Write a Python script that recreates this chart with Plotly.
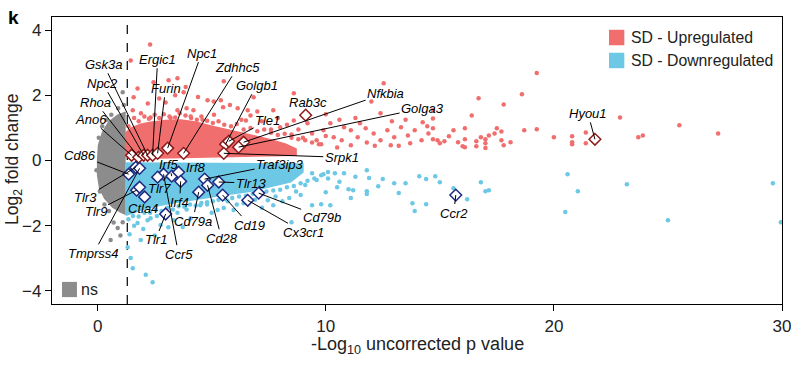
import plotly.graph_objects as go

# ---------------- data ----------------
RED = "#F06E6E"
BLUE = "#6DC8E6"
GREY = "#8C8C8C"

# dense cores of the clouds (outline vertices, data units)
red_core_x = [1.23, 1.23, 1.45, 1.89, 2.32, 2.98, 3.64, 4.30, 4.96, 5.61, 6.27, 6.93, 7.59, 8.25, 8.70, 8.70, 6.71, 3.64, 2.11]
red_core_y = [0.10, 0.84, 0.99, 1.11, 1.17, 1.23, 1.24, 1.18, 1.06, 0.96, 0.86, 0.76, 0.64, 0.50, 0.35, 0.16, 0.13, 0.10, 0.07]
blue_core_x = [1.23, 9.00, 9.00, 8.46, 7.59, 6.71, 5.83, 4.96, 4.08, 3.20, 2.32, 1.67, 1.23]
blue_core_y = [-0.08, -0.11, -0.36, -0.65, -0.80, -0.94, -1.03, -1.12, -1.22, -1.31, -1.43, -1.58, -1.68]
grey_core_x = [1.23, 0.88, 0.48, 0.22, 0.04, 0.00, 0.00, 0.09, 0.31, 0.66, 1.01, 1.23]
grey_core_y = [1.48, 1.39, 1.17, 0.87, 0.47, 0.01, -0.45, -0.85, -1.16, -1.43, -1.58, -1.65]

# scattered individual genes
red_x = [2.3, 1.45, 1.75, 1.58, 1.54, 2.45, 2.98, 3.11, 3.5, 3.77, 3.86, 4.2, 4.82, 5.09, 5.53, 5.4, 6.14, 6.58, 6.84,
         2.32, 3.5, 3.2, 4.08, 4.6, 5.5, 8.6, 12.54, 12.0, 8.6, 10.0, 12.4, 14.7, 14.25, 19.25, 16.7, 18.6, 17.8, 16.4,
         14.7, 14.7, 15.6, 16.1, 17.5, 17.7, 18.7, 19.25, 20.0, 20.8, 20.8, 20.8, 21.4, 21.4, 22.9, 14.7, 15.0, 15.2,
         15.4, 15.8, 16.0, 16.1, 16.1, 16.6, 16.6, 16.8, 17.0, 17.0, 17.0, 17.15, 17.4, 17.7, 17.8, 18.1, 25.5, 23.7,
         23.9, 27.2, 11.1, 11.4, 11.75, 12.1, 12.4, 12.7, 13.0, 13.3, 13.6, 13.9, 14.2, 14.5, 14.45, 14.9, 10.7, 10.8,
         10.35, 10.2, 9.9, 9.6, 9.4, 11.5, 12.15, 12.85, 13.7, 11.1, 9.2, 7.7, 8.0, 6.7, 6.5, 1.9, 2.2, 2.7, 3.4, 3.9,
         4.4, 5.1, 5.8, 6.3, 7.2, 7.0, 7.9, 8.3, 8.8, 9.8, 10.5, 11.8, 13.2, 10.0, 9.0, 8.5, 7.6, 12.9, 13.5, 11.3, 10.6,
         1.35, 1.6, 1.8, 2.05, 2.25, 2.5, 2.7, 2.9, 3.15, 3.4, 3.6, 3.85, 4.1, 4.35, 4.55, 4.8, 5.05, 5.3, 5.55, 5.85,
         6.1, 6.4, 6.7, 7.0, 7.3, 7.6, 7.9, 8.2, 8.5, 8.8, 9.1, 9.4, 9.7]
red_y = [3.56, 3.07, 2.21, 1.94, 1.54, 2.40, 1.78, 2.46, 2.52, 2.09, 2.25, 1.54, 1.85, 1.81, 2.43, 1.85, 1.60, 1.54, 1.94,
         1.32, 1.54, 1.30, 1.35, 1.25, 1.63, 2.06, 2.37, 1.81, 1.23, 1.42, 1.45, 1.54, 1.17, 2.68, 1.91, 2.03, 1.72, 1.38,
         1.29, 0.99, 0.93, 0.99, 0.99, 0.89, 0.93, 0.96, 0.71, 0.74, 0.56, 0.50, 0.86, 0.53, 1.32, 0.65, 0.53, 0.59,
         0.74, 0.56, 0.44, 0.41, 0.65, 0.59, 0.44, 0.71, 0.65, 0.53, 0.38, 0.77, 0.83, 0.62, 0.47, 0.56, 1.08, 0.71,
         0.77, 0.83, 0.93, 0.71, 0.99, 0.83, 0.62, 0.93, 0.71, 1.02, 0.77, 0.93, 0.62, 0.83, 1.05, 0.62, 0.62, 1.02,
         0.71, 1.14, 0.93, 0.62, 0.83, 1.14, 0.45, 0.47, 0.53, 0.47, 1.14, 1.54, 1.02, 1.38, 1.23, 1.45, 1.75, 1.90, 2.00, 1.60,
         1.95, 1.40, 1.70, 1.25, 1.20, 1.50, 1.30, 1.10, 0.95, 0.50, 0.40, 0.55, 0.45, 0.75, 0.70, 0.80, 0.95, 1.20, 1.25, 1.30, 1.25,
         1.05, 1.30, 1.20, 1.35, 1.28, 1.40, 1.30, 1.42, 1.35, 1.32, 1.45, 1.38, 1.30, 1.25, 1.35, 1.22, 1.15, 1.20, 1.10, 1.05,
         1.12, 0.95, 1.00, 0.90, 0.95, 0.85, 0.78, 0.82, 0.70, 0.65, 0.62, 0.55, 0.50]
blue_x = [23.2, 29.6, 25.0, 29.95, 12.5, 13.0, 13.5, 13.2, 14.1, 14.4, 14.8, 15.0, 15.6, 13.8, 14.4, 13.9, 16.2, 16.8,
          17.0, 17.15, 20.6, 21.05, 20.5, 10.4, 10.8, 11.8, 11.9, 12.3, 11.0, 11.2, 11.8, 11.8, 11.1, 10.2, 9.8, 9.4,
          8.5, 9.4, 9.9, 10.5, 10.0, 8.9, 8.4, 7.7, 7.46, 1.32, 1.45, 1.40, 1.75, 1.89, 2.32, 2.76, 3.33, 3.73, 4.08,
          5.53, 5.96, 6.4, 1.54, 2.11, 2.41, 2.19, 4.5, 5.26, 2.6, 3.0, 3.5, 3.9, 4.8, 5.0, 5.7, 6.1, 6.9, 7.2, 7.8,
          8.1, 8.7, 9.1, 9.6, 10.1, 10.6, 11.3, 2.0, 2.5, 1.6, 3.1,
          1.35, 1.55, 1.8, 2.05, 2.3, 2.55, 2.8, 3.05, 3.3, 3.55, 3.8, 4.05, 4.3, 4.55, 4.8, 5.05, 5.3, 5.6, 5.9,
          6.2, 6.5, 6.8, 7.1, 7.4, 7.7, 8.0, 8.3, 8.6, 8.9, 9.2, 9.5, 9.8, 10.1]
blue_y = [-0.73, -0.70, -1.83, -1.89, -0.57, -0.70, -0.70, -1.00, -0.48, -0.57, -0.48, -0.67, -0.85, -1.31, -1.34,
          -1.55, -1.19, -0.67, -0.94, -0.91, -0.42, -0.94, -1.58, -0.39, -0.39, -0.30, -0.54, -0.79, -0.88, -0.91,
          -0.94, -1.03, -1.15, -1.37, -1.34, -1.37, -1.89, -0.39, -0.42, -0.82, -0.97, -1.06, -1.15, -1.37, -1.22,
          -2.66, -2.99, -2.26, -1.92, -2.44, -1.77, -1.98, -1.83, -2.04, -1.77, -1.46, -1.52, -1.31, -3.30, -3.50,
          -3.73, -1.83, -1.37, -1.52, -1.70, -1.55, -1.60, -1.50, -1.35, -1.60, -1.25, -1.35, -1.20, -1.45, -1.10,
          -1.25, -0.95, -0.75, -0.60, -0.55, -0.65, -0.50, -2.10, -2.30, -2.00, -2.05,
          -1.80, -1.70, -1.72, -1.60, -1.60, -1.50, -1.55, -1.45, -1.50, -1.40, -1.42, -1.35, -1.38, -1.30, -1.28,
          -1.25, -1.20, -1.18, -1.15, -1.10, -1.08, -1.02, -1.00, -0.95, -0.92, -0.90, -0.82, -0.78, -0.70, -0.62,
          -0.55, -0.45, -0.35]
grey_x = [1.10, 0.70, 0.57, 0.88, 1.10, 0.90, 1.15, 0.40, 0.30, 1.00, 0.05, 0.10, 0.60, 0.20, -0.05, 0.50]
grey_y = [2.09, -1.90, -2.44, -2.07, -1.89, 1.60, 1.70, 1.25, -1.35, -2.30, 0.70, -0.95, 1.40, 1.05, -0.30, -1.55]

# highlighted genes
up_genes = ["Ano6", "Rhoa", "Npc2", "Gsk3a", "Ergic1", "Furin", "Npc1", "Zdhhc5", "Golgb1", "Tle1",
            "Nfkbia", "Golga3", "Srpk1", "Rab3c", "Hyou1"]
up_x = [1.49, 1.80, 2.02, 2.19, 2.41, 2.63, 3.07, 3.77, 5.61, 5.75, 6.40, 6.18, 5.53, 9.12, 21.80]
up_y = [0.16, 0.10, 0.16, 0.16, 0.16, 0.22, 0.38, 0.22, 0.50, 0.59, 0.56, 0.41, 0.22, 1.39, 0.65]
down_genes = ["Cd86", "Tlr3", "Tmprss4", "Tlr9", "Tlr7", "Ctla4", "Tlr1", "Ccr5", "Irf5", "Irf8", "Irf4",
              "Traf3ip3", "Tlr13", "Cd28", "Cd79a", "Cd19", "Cd79b", "Cx3cr1", "Ccr2", ""]
down_x = [1.36, 1.67, 1.84, 1.71, 1.84, 2.06, 2.98, 2.89, 3.25, 3.55, 3.64, 4.69, 5.31, 4.82, 4.43, 5.48,
          7.06, 6.58, 15.70, 2.63]
down_y = [-0.42, -0.21, -0.24, -0.91, -0.82, -1.12, -1.64, -0.42, -0.48, -0.36, -0.64, -0.57, -0.66, -0.76,
          -0.97, -1.06, -1.00, -1.22, -1.06, -0.51]

x_ticks = [0, 10, 20, 30]
y_ticks = [-4, -2, 0, 2, 4]
p_cutoff = 1.3

# ---------------- label placement (pixel offsets of label centre) ----------------
label_pos = {
    "Ano6": (-41, -36, True), "Rhoa": (-43, -55, True), "Npc2": (-41, -72, True), "Gsk3a": (-44, -91, True),
    "Ergic1": (5, -96, True), "Furin": (8, -65, True), "Npc1": (34, -95, True), "Zdhhc5": (54, -86, True),
    "Golgb1": (31, -59, True), "Tle1": (39, -21, True), "Nfkbia": (142, -49, True), "Golga3": (184, -39, True),
    "Srpk1": (118, 4, True), "Rab3c": (2, -13, False), "Hyou1": (-7, -26, True),
    "Cd86": (-49, -19, True), "Tlr3": (-50, 30, True), "Tmprss4": (-46, 85, True), "Tlr9": (-41, 21, True),
    "Tlr7": (20, 1, False), "Ctla4": (-2, 11, False), "Tlr1": (-10, 26, True), "Ccr5": (15, 80, True),
    "Irf5": (-3, -12, True), "Irf8": (17, -5, False), "Irf4": (-1, 21, True), "Traf3ip3": (75, -15, True),
    "Tlr13": (32, 1, True), "Cd28": (14, 53, True), "Cd79a": (-6, 29, True), "Cd19": (27, 30, True),
    "Cd79b": (63, 24, True), "Cx3cr1": (56, 32, True), "Ccr2": (-2, 18, True),
}

FONT = "Liberation Sans, Arial, Helvetica, sans-serif"

fig = go.Figure()


def core(xs, ys, color):
    fig.add_trace(go.Scatter(x=xs, y=ys, mode="lines", fill="toself", fillcolor=color,
                             line=dict(width=1.5, color=color), hoverinfo="skip", showlegend=False))


def dots(xs, ys, color):
    fig.add_trace(go.Scatter(x=xs, y=ys, mode="markers", marker=dict(size=4.5, color=color),
                             hoverinfo="skip", showlegend=False))


core(grey_core_x, grey_core_y, GREY)
dots(grey_x, grey_y, GREY)
core(red_core_x, red_core_y, RED)
dots(red_x, red_y, RED)
core(blue_core_x, blue_core_y, BLUE)
dots(blue_x, blue_y, BLUE)

fig.add_trace(go.Scatter(x=up_x, y=up_y, mode="markers",
                         marker=dict(symbol="diamond", size=9, color="white",
                                     line=dict(color="#8E1B1B", width=1.5)),
                         hoverinfo="skip", showlegend=False))
fig.add_trace(go.Scatter(x=down_x, y=down_y, mode="markers",
                         marker=dict(symbol="diamond", size=9, color="white",
                                     line=dict(color="#1F2A80", width=1.5)),
                         hoverinfo="skip", showlegend=False))

annotations = []
for names, xs, ys in ((up_genes, up_x, up_y), (down_genes, down_x, down_y)):
    for name, x, y in zip(names, xs, ys):
        if not name:
            continue
        ax, ay, arrow = label_pos[name]
        a = dict(x=x, y=y, xref="x", yref="y", text="<i>%s</i>" % name,
                 font=dict(family=FONT, size=13, color="black"))
        if arrow:
            a.update(showarrow=True, ax=ax, ay=ay, arrowhead=0, arrowwidth=1, arrowcolor="black",
                     standoff=0, startstandoff=0)
        else:
            a.update(showarrow=False, xshift=ax, yshift=-ay)
        annotations.append(a)

# legend drawn by hand
legend_items = [("SD - Upregulated", RED, 0.9285), ("SD - Downregulated", BLUE, 0.8485)]
shapes = [dict(type="line", xref="x", yref="paper", x0=p_cutoff, x1=p_cutoff, y0=0, y1=1,
               line=dict(color="black", width=1.2, dash="dash"), layer="below")]
for text, col, yc in legend_items:
    shapes.append(dict(type="rect", xref="paper", yref="paper", x0=0.763, x1=0.784,
                       y0=yc - 0.027, y1=yc + 0.027, fillcolor=col, line=dict(width=0)))
    annotations.append(dict(x=0.790, y=yc, xref="paper", yref="paper", text=text, showarrow=False,
                            xanchor="left", yanchor="middle",
                            font=dict(family=FONT, size=15.8, color="#222222")))
shapes.append(dict(type="rect", xref="paper", yref="paper", x0=0.0137, x1=0.0342, y0=0.024, y1=0.077,
                   fillcolor=GREY, line=dict(width=0)))
annotations.append(dict(x=0.037, y=0.052, xref="paper", yref="paper", text="ns", showarrow=False,
                        xanchor="left", yanchor="middle", font=dict(family=FONT, size=16, color="#222222")))
annotations.append(dict(x=-0.053, y=0.997, xref="paper", yref="paper", text="<b>k</b>", showarrow=False,
                        xanchor="center", yanchor="middle", font=dict(family=FONT, size=19, color="black")))
annotations.append(dict(x=0.5, y=-0.143, xref="paper", yref="paper",
                        text="-Log<sub>10</sub> uncorrected p value", showarrow=False,
                        xanchor="center", yanchor="middle", font=dict(family=FONT, size=18, color="#222222")))
annotations.append(dict(x=-0.052, y=0.502, xref="paper", yref="paper", textangle=-90,
                        text="Log<sub>2</sub> fold change", showarrow=False,
                        xanchor="center", yanchor="middle", font=dict(family=FONT, size=17.5, color="#222222")))

axis_common = dict(showgrid=False, zeroline=False, showline=True, linecolor="black", linewidth=1.3,
                   mirror=True, ticks="outside", ticklen=6, tickcolor="black", tickwidth=1.2,
                   automargin=False, ticklabeloverflow="allow",
                   tickfont=dict(family=FONT, size=17, color="#222222"))

fig.update_layout(
    width=791, height=366,
    margin=dict(l=52, r=9, t=17, b=62),
    paper_bgcolor="white", plot_bgcolor="white",
    xaxis=dict(range=[-2, 30], tickvals=x_ticks, **axis_common),
    yaxis=dict(range=[-4.4, 4.4], tickvals=y_ticks, **axis_common),
    shapes=shapes, annotations=annotations, showlegend=False,
)

fig.write_html("out.html")
